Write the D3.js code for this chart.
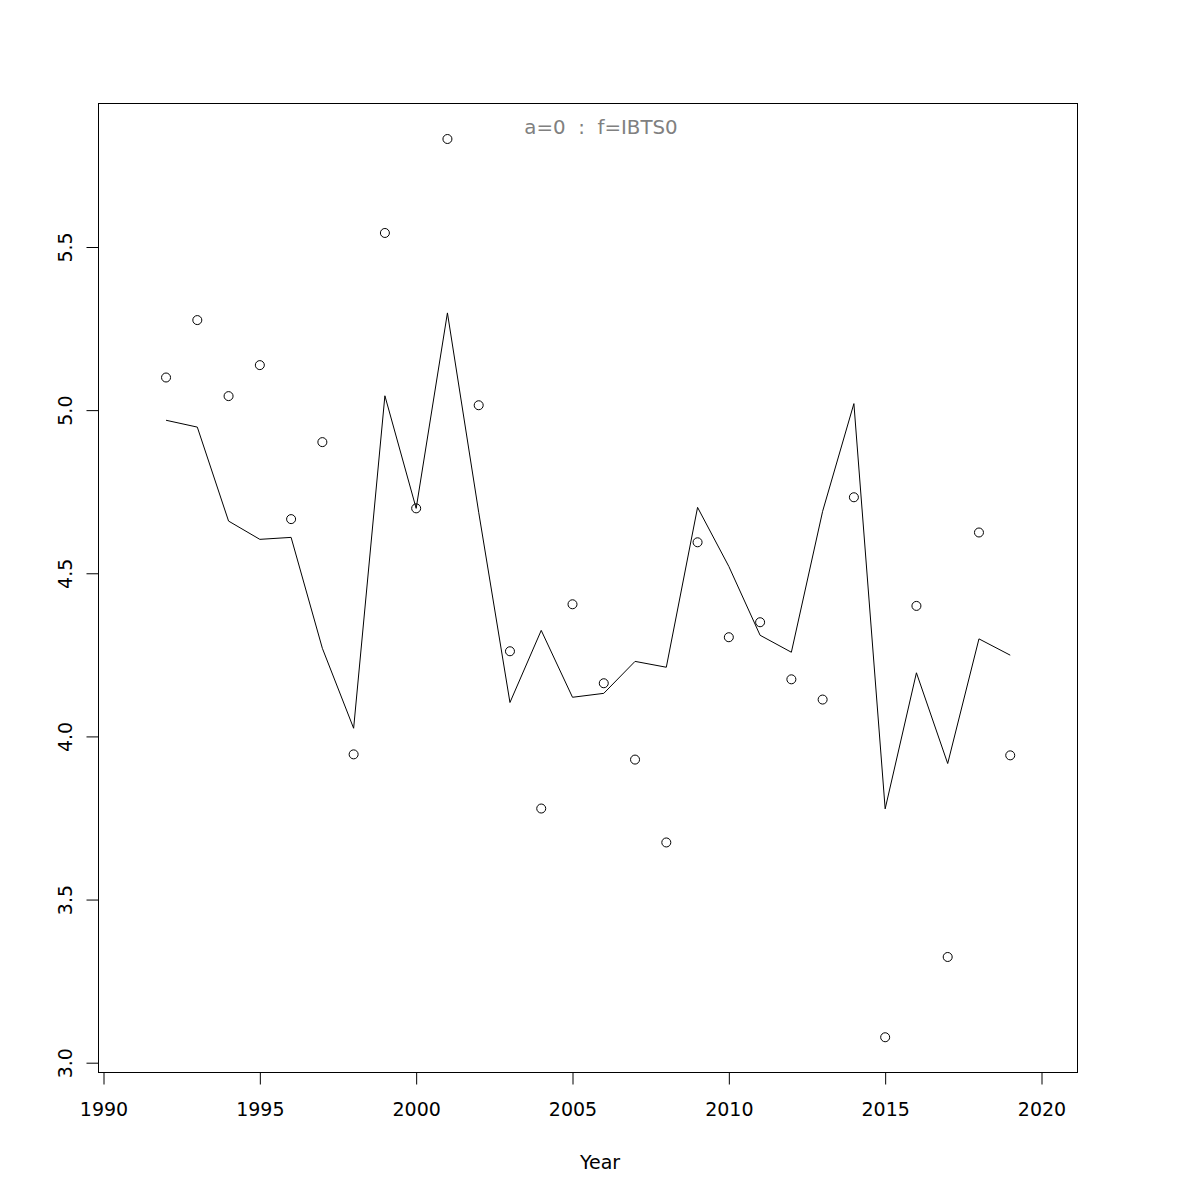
<!DOCTYPE html>
<html>
<head>
<meta charset="utf-8">
<script src="https://cdn.jsdelivr.net/npm/d3@7"></script>
<style>
  html, body { margin: 0; padding: 0; background: #fff; }
  svg { display: block; font-family: "DejaVu Sans", sans-serif; }
</style>
</head>
<body>
<svg id="chart" width="1200" height="1200"></svg>
<script>
const years = [1992,1993,1994,1995,1996,1997,1998,1999,2000,2001,2002,2003,2004,2005,2006,2007,2008,2009,2010,2011,2012,2013,2014,2015,2016,2017,2018,2019];
const observed = [5.100,5.276,5.043,5.138,4.666,4.902,3.945,5.543,4.699,5.831,5.015,4.261,3.779,4.405,4.163,3.929,3.675,4.595,4.304,4.350,4.175,4.113,4.733,3.078,4.400,3.324,4.625,3.942];
const fitted = [4.969,4.948,4.660,4.604,4.610,4.270,4.025,5.044,4.699,5.298,4.687,4.104,4.325,4.120,4.132,4.230,4.212,4.702,4.521,4.310,4.258,4.690,5.020,3.778,4.195,3.917,4.299,4.249];
const xTicks = [1990,1995,2000,2005,2010,2015,2020];
const yTicks = [3.0,3.5,4.0,4.5,5.0,5.5];
const titleText = "a=0  :  f=IBTS0";
const xLabel = "Year";

const svg = d3.select("#chart");
const box = {left: 98, right: 1077, top: 103, bottom: 1072};

const x = d3.scaleLinear().domain([1990, 2020]).range([103.5, 1041.5]);
const y = d3.scaleLinear().domain([3, 5.5]).range([1062.7, 247]);

// plot box
svg.append("rect")
  .attr("x", box.left + 0.5).attr("y", box.top + 0.5)
  .attr("width", box.right - box.left).attr("height", box.bottom - box.top)
  .attr("fill", "none").attr("stroke", "#000").attr("stroke-width", 1);

// x axis
const xAxis = d3.axisBottom(x).tickValues(xTicks).tickFormat(d3.format("d"))
  .tickSize(12).tickPadding(18);
const gx = svg.append("g").attr("transform", `translate(0,${box.bottom + 0.5})`).call(xAxis);
gx.select(".domain").attr("d", `M${x(1990)},0H${x(2020)}`).attr("stroke", "#000");
gx.selectAll(".tick line").attr("stroke", "#000");
gx.selectAll(".tick text").attr("font-size", 19).attr("fill", "#000")
  .attr("font-family", "DejaVu Sans, sans-serif");

// y axis
const yAxis = d3.axisLeft(y).tickValues(yTicks).tickFormat(d3.format(".1f"))
  .tickSize(12).tickPadding(0);
const gy = svg.append("g").attr("transform", `translate(${box.left + 0.5},0)`).call(yAxis);
gy.select(".domain").attr("d", `M0,${y(3)}V${y(5.5)}`).attr("stroke", "#000");
gy.selectAll(".tick line").attr("stroke", "#000");
gy.selectAll(".tick text")
  .attr("font-size", 19).attr("fill", "#000")
  .attr("font-family", "DejaVu Sans, sans-serif")
  .attr("text-anchor", "middle")
  .attr("x", null).attr("dy", null)
  .attr("transform", "translate(-34,0) rotate(-90)")
  .attr("dominant-baseline", "central");

// fitted line
const line = d3.line().x((d, i) => x(years[i])).y(d => y(d));
svg.append("path").datum(fitted)
  .attr("d", line).attr("fill", "none").attr("stroke", "#000").attr("stroke-width", 1);

// observed points
svg.append("g").selectAll("circle").data(observed).join("circle")
  .attr("cx", (d, i) => x(years[i])).attr("cy", d => y(d))
  .attr("r", 4.5).attr("fill", "none").attr("stroke", "#000").attr("stroke-width", 1);

// title inside plot
svg.append("text").attr("x", 601).attr("y", 127)
  .attr("text-anchor", "middle").attr("dominant-baseline", "central")
  .style("white-space", "pre").attr("xml:space", "preserve")
  .attr("font-size", 19.8).attr("fill", "#808080").text(titleText);

// x label
svg.append("text").attr("x", 600).attr("y", 1162)
  .attr("text-anchor", "middle").attr("dominant-baseline", "central")
  .attr("font-size", 19).attr("fill", "#000").text(xLabel);
</script>
</body>
</html>
